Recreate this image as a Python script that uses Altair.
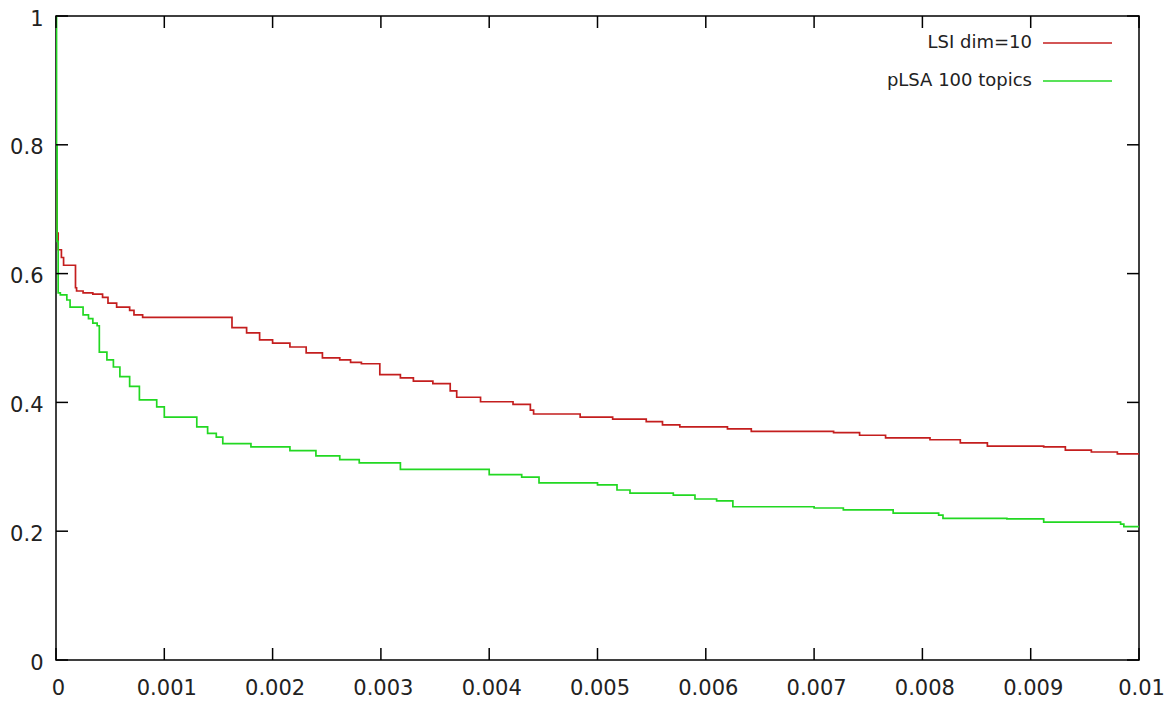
import altair as alt
import pandas as pd

# ---- data ----
lsi_x = [0, 0.00001, 0.00002, 0.00005, 0.00007, 0.00018, 0.00019, 0.00025, 0.00034, 0.00043,
         0.00048, 0.00056, 0.00068, 0.00072, 0.00080, 0.001625, 0.00176, 0.00188, 0.00200,
         0.00216, 0.00231, 0.00246, 0.00262, 0.00272, 0.00282, 0.00299, 0.00318, 0.00330,
         0.00348, 0.00364, 0.00370, 0.00392, 0.00422, 0.00438, 0.00441, 0.00484, 0.00514,
         0.00545, 0.00560, 0.00576, 0.00620, 0.00642, 0.00718, 0.00742, 0.00766, 0.00807,
         0.00835, 0.00860, 0.00912, 0.00932, 0.00956, 0.00980, 0.01000]
lsi_y = [0.745, 0.663, 0.637, 0.625, 0.613, 0.578, 0.573, 0.570, 0.568, 0.563,
         0.554, 0.548, 0.543, 0.536, 0.532, 0.516, 0.508, 0.497, 0.492,
         0.486, 0.477, 0.469, 0.466, 0.462, 0.460, 0.443, 0.438, 0.433,
         0.429, 0.418, 0.408, 0.401, 0.397, 0.388, 0.382, 0.377, 0.374,
         0.370, 0.365, 0.362, 0.359, 0.355, 0.353, 0.349, 0.345, 0.342,
         0.337, 0.332, 0.331, 0.326, 0.323, 0.320, 0.320]

plsa_x = [0, 0.000005, 0.00001, 0.00002, 0.00004, 0.00010, 0.00013, 0.00025, 0.00030, 0.00034,
          0.00038, 0.00040, 0.00047, 0.00053, 0.00059, 0.00068, 0.00077, 0.00093, 0.00100,
          0.00130, 0.00140, 0.00148, 0.00154, 0.00180, 0.00216, 0.00240, 0.00262, 0.00280,
          0.00318, 0.00400, 0.00430, 0.00446, 0.00500, 0.00518, 0.00530, 0.00570, 0.00590,
          0.00610, 0.00625, 0.00700, 0.00727, 0.00773, 0.00815, 0.00819, 0.00878, 0.00912,
          0.00983, 0.00986, 0.01000]
plsa_y = [1.0, 0.80, 0.65, 0.570, 0.567, 0.559, 0.548, 0.536, 0.530, 0.523,
          0.519, 0.478, 0.466, 0.455, 0.440, 0.425, 0.404, 0.393, 0.377,
          0.362, 0.352, 0.346, 0.336, 0.331, 0.325, 0.317, 0.311, 0.306,
          0.296, 0.288, 0.284, 0.275, 0.272, 0.264, 0.259, 0.256, 0.250,
          0.247, 0.238, 0.236, 0.233, 0.228, 0.225, 0.220, 0.219, 0.214,
          0.211, 0.207, 0.207]

series_names = ["LSI dim=10", "pLSA 100 topics"]
series_colors = ["#c41e1e", "#22d822"]
x_ticks = [0, 0.001, 0.002, 0.003, 0.004, 0.005, 0.006, 0.007, 0.008, 0.009, 0.01]
y_ticks = [0, 0.2, 0.4, 0.6, 0.8, 1.0]

W, H = 1083, 644
FONT = "DejaVu Sans"
FS = 18
TICK_FS = 21

df = pd.concat([
    pd.DataFrame({"x": lsi_x, "y": lsi_y, "series": series_names[0], "order": range(len(lsi_x))}),
    pd.DataFrame({"x": plsa_x, "y": plsa_y, "series": series_names[1], "order": range(len(plsa_x))}),
])

xscale = alt.Scale(domain=[0, 0.01], nice=False, zero=False)
yscale = alt.Scale(domain=[0, 1], nice=False, zero=False)
xaxis = alt.Axis(values=x_ticks, format="~g", title=None, grid=False, ticks=False,
                 domain=False, labelPadding=17, labelFontSize=TICK_FS, labelFont=FONT,
                 labelColor="#222222", labelFlush=False, labelOffset=2)
yaxis = alt.Axis(values=y_ticks, format="~g", title=None, grid=False, ticks=False,
                 domain=False, labelPadding=13, labelFontSize=TICK_FS, labelFont=FONT,
                 labelColor="#222222", labelFlush=False, labelOffset=3)

lines = alt.Chart(df).mark_line(interpolate="step-after", strokeWidth=1.7, clip=True).encode(
    x=alt.X("x:Q", scale=xscale, axis=xaxis),
    y=alt.Y("y:Q", scale=yscale, axis=yaxis),
    color=alt.Color("series:N", scale=alt.Scale(domain=series_names, range=series_colors), legend=None),
    order="order:Q",
)

xt = pd.DataFrame({"v": x_ticks})
yt = pd.DataFrame({"v": y_ticks})
tick_style = dict(color="black", strokeWidth=1.5)
bottom_ticks = alt.Chart(xt).mark_rule(**tick_style).encode(
    x=alt.X("v:Q", scale=xscale, axis=xaxis), y=alt.value(H), y2=alt.value(H - 12))
top_ticks = alt.Chart(xt).mark_rule(**tick_style).encode(
    x=alt.X("v:Q", scale=xscale, axis=xaxis), y=alt.value(0), y2=alt.value(12))
left_ticks = alt.Chart(yt).mark_rule(**tick_style).encode(
    y=alt.Y("v:Q", scale=yscale, axis=yaxis), x=alt.value(0), x2=alt.value(12))
right_ticks = alt.Chart(yt).mark_rule(**tick_style).encode(
    y=alt.Y("v:Q", scale=yscale, axis=yaxis), x=alt.value(W - 12), x2=alt.value(W))

leg_layers = []
row_y = [27, 65]
for name, col, ry in zip(series_names, series_colors, row_y):
    ldf = pd.DataFrame({"label": [name]})
    leg_layers.append(alt.Chart(ldf).mark_text(align="right", baseline="middle", font=FONT,
                                               fontSize=FS, color="#222222").encode(
        text="label:N", x=alt.value(976), y=alt.value(ry)))
    leg_layers.append(alt.Chart(ldf).mark_rule(color=col, strokeWidth=1.7).encode(
        x=alt.value(987), x2=alt.value(1056), y=alt.value(ry)))

chart = alt.layer(lines, bottom_ticks, top_ticks, left_ticks, right_ticks, *leg_layers).properties(
    width=W, height=H,
    autosize=alt.AutoSizeParams(type="none"),
    padding={"left": 56, "top": 16, "right": 33, "bottom": 49},
    background="white",
).configure_view(stroke="black", strokeWidth=1.5)

chart.save("out.html", embed_options={"renderer": "svg", "actions": False})
